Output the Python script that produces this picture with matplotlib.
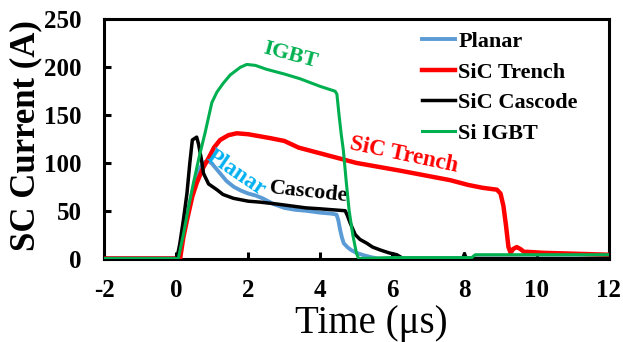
import matplotlib
matplotlib.use('Agg')
import matplotlib.pyplot as plt

plt.rcParams['font.family'] = ['Liberation Serif', 'DejaVu Serif']
plt.rcParams['axes.unicode_minus'] = False

# short-circuit current waveforms, time in us, current in A
t_planar = [-2, 0.08, 0.2, 0.3, 0.4, 0.5, 0.6, 0.7, 0.8, 0.9, 1.0, 1.2, 1.4, 1.6, 1.8, 2.0,
            2.2, 2.4, 2.7, 3.0, 3.3, 3.6, 4.0, 4.3, 4.45, 4.5, 4.55, 4.6, 4.65, 4.75, 4.85,
            5.0, 5.2, 5.4, 5.6, 12]
i_planar = [0, 0, 25, 45, 62, 77, 90, 97, 101, 102, 99, 90, 81, 75, 71, 68,
            66, 63, 57, 53, 51, 50, 48, 47, 46, 40, 30, 22, 16, 12, 9,
            6, 3.5, 1.5, 0, 0]

t_trench = [-2, 0.11, 0.2, 0.3, 0.45, 0.57, 0.75, 0.9, 1.05, 1.22, 1.45, 1.68, 2.0, 2.3,
            2.6, 3.0, 3.4, 3.9, 4.4, 5.0, 5.6, 6.2, 6.9, 7.6, 8.1, 8.5, 8.9, 9.0, 9.08,
            9.15, 9.22, 9.28, 9.35, 9.45, 9.55, 9.65, 9.75, 10.2, 12]
i_trench = [0, 0, 22, 40, 65, 79, 95, 105, 116, 124, 129, 131, 130, 128,
            126, 123, 116, 111, 106, 100, 96, 92, 87, 82, 77, 74, 72, 68, 55,
            35, 12, 6, 10, 12, 10, 7, 7, 6, 4]

t_cascode = [-2, 0.02, 0.1, 0.2, 0.3, 0.38, 0.45, 0.57, 0.62, 0.7, 0.76, 0.9, 1.13, 1.3,
             1.59, 2.0, 2.33, 2.8, 3.2, 3.6, 4.0, 4.69, 4.75, 4.83, 4.97, 5.1, 5.29, 5.45,
             5.66, 5.9, 6.12, 6.3, 7.95, 8.0, 8.05, 12]
i_cascode = [0, 0, 15, 40, 68, 100, 124, 127, 120, 104, 89, 78, 72, 67,
             63, 60, 59, 57, 55, 53, 52, 50, 45, 37, 25, 20, 16, 12,
             9, 6, 4, 0, 0, 5, 0, 0]

t_igbt = [-2, 0.06, 0.2, 0.35, 0.48, 0.65, 0.8, 0.99, 1.13, 1.3, 1.5, 1.78, 1.96, 2.2,
          2.5, 3.0, 3.44, 4.0, 4.41, 4.46, 4.52, 4.58, 4.64, 4.72, 4.8, 4.9, 5.0, 5.06,
          6.0, 8.2, 8.3, 12]
i_igbt = [0, 0, 25, 55, 79, 108, 131, 163, 174, 183, 192, 200, 203, 202,
          198, 193, 188, 180, 175, 172, 150, 130, 113, 80, 50, 25, 6, 0,
          1, 1, 4, 4]

fig = plt.figure(figsize=(6.23, 3.42), dpi=100)
ax = fig.add_axes([0.167, 0.244, 0.81, 0.699])

ax.plot(t_planar, i_planar, color='#5b9bd5', lw=2.8, label='Planar', zorder=2)
ax.plot(t_trench, i_trench, color='#ff0000', lw=3.2, label='SiC Trench', zorder=3)
ax.plot(t_cascode, i_cascode, color='black', lw=2.5, label='SiC Cascode', zorder=4)
ax.plot(t_igbt, i_igbt, color='#00b050', lw=2.2, label='Si IGBT', zorder=5)

ax.set_xlim(-2, 12)
ax.set_ylim(0, 250)
ax.set_xticks(range(-2, 13, 2))
ax.set_yticks(range(0, 251, 50))
for s in ax.spines.values():
    s.set_linewidth(2.2)
ax.tick_params(direction='in', length=5, width=2.2, labelsize=18)
ax.tick_params(axis='x', pad=15)
ax.tick_params(axis='y', pad=16)
for lab in ax.get_xticklabels() + ax.get_yticklabels():
    lab.set_fontweight('bold')

fig.text(0.596, 0.0, 'Time (\u03bcs)', fontsize=28, ha='center', va='bottom')
fig.text(0.041, 0.605, 'SC Current (A)', fontsize=25, fontweight='bold',
         rotation=90, ha='center', va='center')

# curve labels
ax.text(3.16, 212, 'IGBT', color='#00b050', fontsize=16, fontweight='bold',
        rotation=-15, ha='center', va='center')
ax.text(6.33, 108, 'SiC Trench', color='#ff0000', fontsize=16.5, fontweight='bold',
        rotation=-12, ha='center', va='center')
ax.text(1.66, 89, 'Planar', color='#00b0f0', fontsize=16.5, fontweight='bold',
        rotation=-34, ha='center', va='center')
ax.text(3.69, 69, 'Cascode', color='black', fontsize=16, fontweight='bold',
        rotation=-6, ha='center', va='center')

ax.legend(loc='upper left', bbox_to_anchor=(0.63, 0.95), frameon=False,
          prop={'weight': 'bold', 'size': 16}, handlelength=1.5,
          handletextpad=0.14, labelspacing=0.45, borderpad=0, borderaxespad=0)

fig.savefig('out.png', dpi=100)
